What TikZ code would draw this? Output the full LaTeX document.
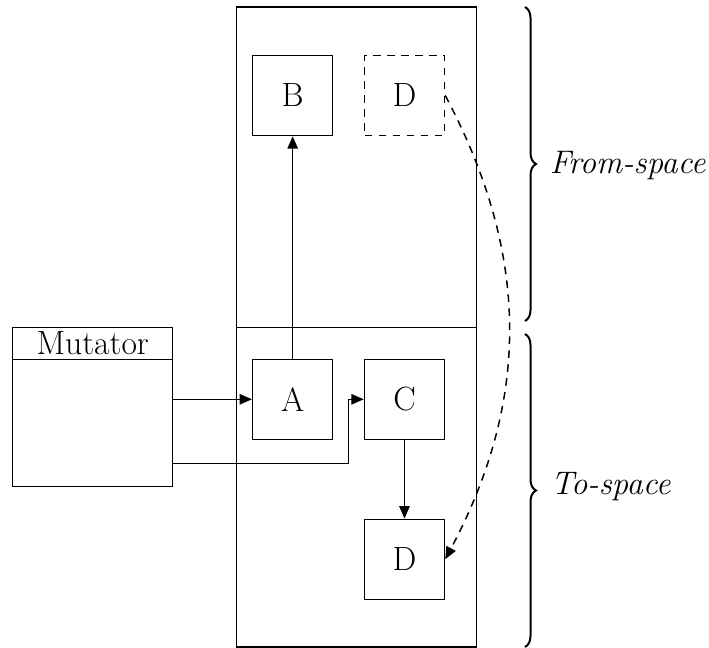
\documentclass[tikz,border=0pt]{standalone}
\usetikzlibrary{arrows.meta,decorations.pathreplacing}
\begin{document}
\begin{tikzpicture}[x=0.5pt,y=0.5pt,
  line width=0.75pt,
  txt/.style={font=\fontsize{16.8pt}{20pt}\selectfont},
  region/.style={draw, minimum width=120pt, inner sep=0pt},
  cell/.style={draw, txt, minimum size=40pt, inner sep=0pt},
  ghost/.style={cell, dash pattern=on 3.8pt off 3.2pt},
  ptr/.style={-{Triangle[length=6.2pt,width=5.2pt]}},
  fwd/.style={ptr, dash pattern=on 3.8pt off 3.2pt},
  span/.style={decorate, decoration={brace, amplitude=5.5pt}, line width=1pt},
  spacelbl/.style={anchor=base west, inner sep=0pt, font=\fontsize{16.3pt}{19.5pt}\selectfont\itshape}
]
\useasboundingbox (0,0) rectangle (709,648);

% the two semispaces of the heap
\node[region, minimum height=160.15pt] (fromsp) at (356.5,480.85) {};
\node[region, minimum height=159.85pt] (tosp) at (356.5,160.85) {};

% objects
\node[cell] (B) at (292.7,552.5) {B};
\node[ghost] (Dold) at (404.5,552.5) {D};
\node[cell] (A) at (292.7,248.7) {A};
\node[cell] (C) at (404.5,248.7) {C};
\node[cell] (Dnew) at (404.5,88.7) {D};

% mutator with its header
\node[draw, minimum width=80pt, minimum height=79.7pt, inner sep=0pt] (mut) at (92.7,241) {};
\node[txt, inner sep=0pt, anchor=base] (mutlbl) at (92.7,293) {Mutator};
\coordinate (hdl) at (12.7,288.3);
\coordinate (hdr) at (172.7,288.3);
\draw (hdl) -- (hdr);

% references
\draw[ptr] (mut.east |- A.west) -- (A.west);
\coordinate (mlow) at (172.7,184.3);
\coordinate (elbow) at (348.7,184.3);
\draw[ptr] (mlow) -- (elbow) |- (C.west);
\draw[ptr] (A.north) -- (B.south);
\draw[ptr] (C.south) -- (Dnew.north);
\draw[fwd] (Dold.east) to[bend left=28] (Dnew.east);

% braces and labels
\coordinate (fb1) at (525,641);
\coordinate (fb2) at (525,327);
\coordinate (tb1) at (525,314);
\coordinate (tb2) at (525,1);
\draw[span] (fb1) -- (fb2);
\draw[span] (tb1) -- (tb2);
\node[spacelbl] (fromlbl) at (549,474.7) {From-space};
\node[spacelbl] (tolbl) at (550,153) {To-space};
\end{tikzpicture}
\end{document}
